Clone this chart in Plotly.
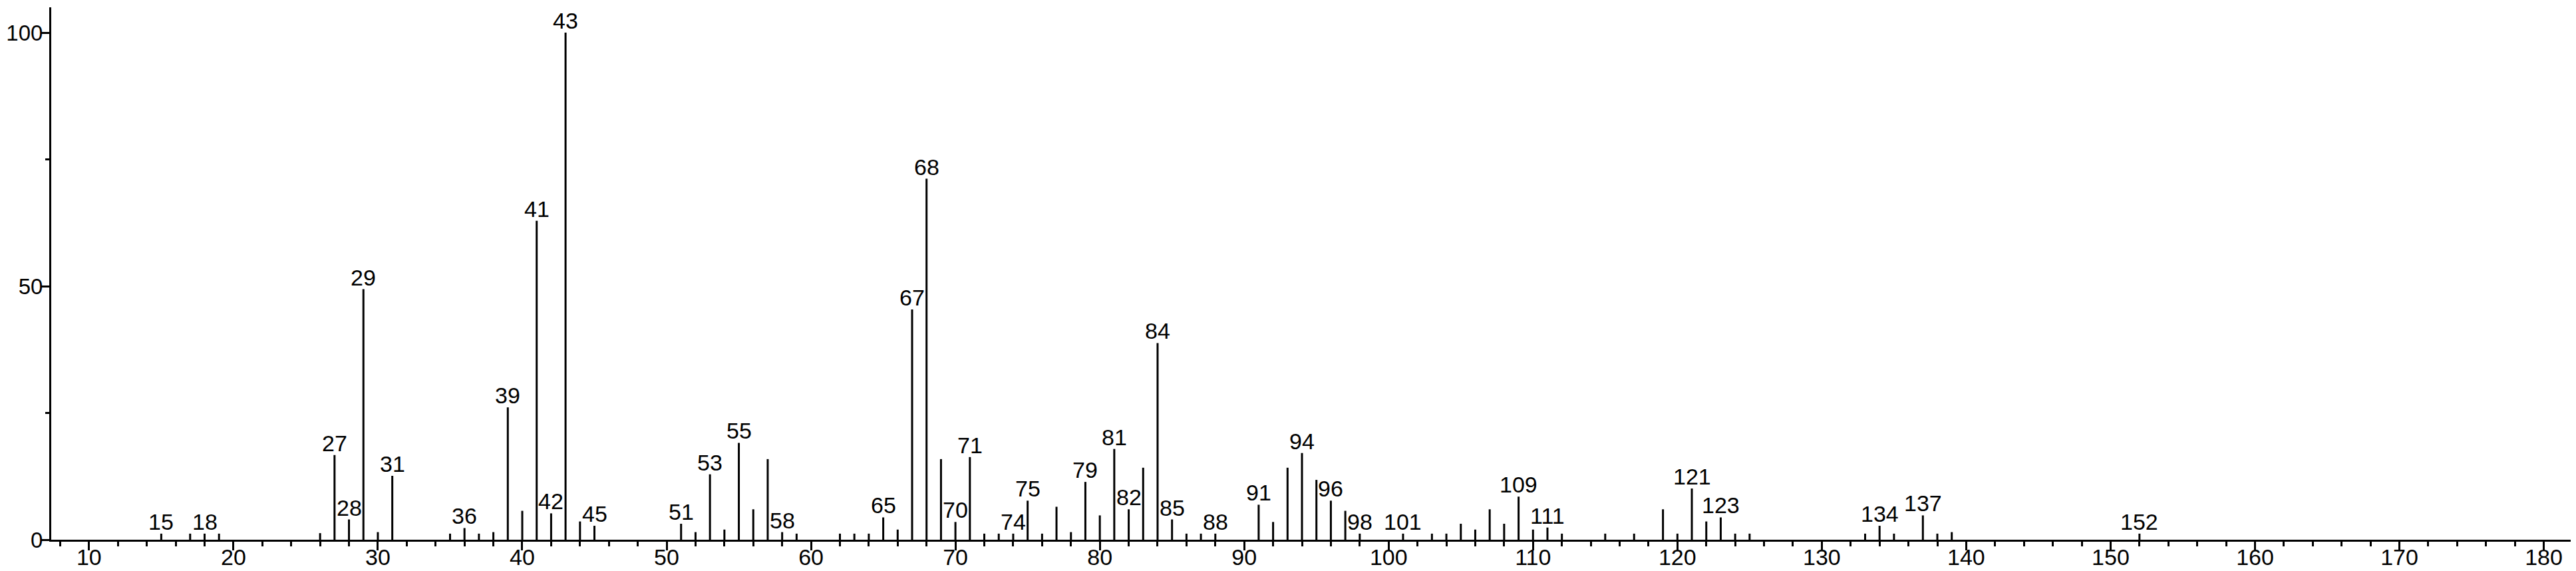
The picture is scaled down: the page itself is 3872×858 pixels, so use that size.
import plotly.graph_objects as go

# m/z values and relative intensities
mz = [15, 17, 18, 19, 26, 27, 28, 29, 30, 31, 35, 36, 37, 38, 39, 40, 41, 42, 43, 44, 45,
      51, 52, 53, 54, 55, 56, 57, 58, 59, 62, 63, 64, 65, 66, 67, 68, 69, 70, 71, 72, 73, 74,
      75, 76, 77, 78, 79, 80, 81, 82, 83, 84, 85, 86, 87, 88, 91, 92, 93, 94, 95, 96, 97, 98,
      101, 103, 104, 105, 106, 107, 108, 109, 110, 111, 112, 115, 117, 119, 120, 121, 122,
      123, 124, 125, 133, 134, 135, 137, 138, 139, 152]
intensity = [1.2, 1.2, 1.2, 1.2, 1.3, 16.7, 4.0, 49.4, 1.5, 12.6, 1.2, 2.3, 1.2, 1.5, 26.1, 5.7,
             62.9, 5.2, 100, 3.6, 2.75,
             3.15, 1.5, 12.9, 2.0, 19.1, 6.0, 15.9, 1.5, 1.2, 1.2, 1.2, 1.2, 4.4, 2.0, 45.4, 71.2,
             15.9, 3.5, 16.3, 1.2, 1.2, 1.2,
             7.7, 1.2, 6.5, 1.5, 11.4, 4.8, 17.9, 6.0, 14.2, 38.8, 4.0, 1.2, 1.2, 1.2, 6.9, 3.5,
             14.2, 17.1, 11.8, 7.7, 5.7, 1.2,
             1.2, 1.2, 1.2, 3.15, 2.0, 6.0, 3.15, 8.5, 2.0, 2.4, 1.2, 1.2, 1.2, 6.0, 1.2, 10.1, 3.6,
             4.4, 1.2, 1.2, 1.2, 2.75, 1.2, 4.8, 1.2, 1.5, 1.2]
labeled = [15, 18, 27, 28, 29, 31, 36, 39, 41, 42, 43, 45, 51, 53, 55, 58, 65, 67, 68, 70, 71,
           74, 75, 79, 81, 82, 84, 85, 88, 91, 94, 96, 98, 101, 109, 111, 121, 123, 134, 137, 152]
x_ticks = list(range(10, 190, 10))
y_ticks = [0, 50, 100]

FONT = "Liberation Sans, Arial, Helvetica, sans-serif"

xs, ys = [], []
for m, h in zip(mz, intensity):
    xs += [m, m, None]
    ys += [0, h, None]

fig = go.Figure()
fig.add_trace(go.Scatter(x=xs, y=ys, mode="lines",
                         line=dict(color="black", width=3), hoverinfo="skip",
                         showlegend=False))

lookup = dict(zip(mz, intensity))
for m in labeled:
    fig.add_annotation(x=m, y=lookup[m], text=str(m), showarrow=False,
                       xanchor="center", yanchor="bottom", yshift=-3,
                       font=dict(family=FONT, size=34, color="black"))

fig.update_layout(
    width=3872, height=858,
    margin=dict(l=69, r=0, t=3, b=55, autoexpand=False),
    plot_bgcolor="white", paper_bgcolor="white",
    font=dict(family=FONT, size=34, color="black"),
    showlegend=False,
)
fig.update_xaxes(range=[7.38, 182.6], tickvals=x_ticks, ticktext=[str(v) for v in x_ticks],
                 ticks="outside", ticklen=13, tickwidth=3, tickcolor="black",
                 ticklabelstandoff=-19,
                 showline=True, linewidth=3, linecolor="black",
                 showgrid=False, zeroline=False, automargin=False,
                 minor=dict(dtick=2, tick0=0, ticks="outside", ticklen=7, tickwidth=3,
                            tickcolor="black", showgrid=False),
                 tickfont=dict(family=FONT, size=34, color="black"))
fig.update_yaxes(range=[0, 105], tickvals=y_ticks, ticktext=[str(v) for v in y_ticks],
                 ticks="outside", ticklen=12, tickwidth=3, tickcolor="black",
                 ticklabelstandoff=-9,
                 showline=True, linewidth=3, linecolor="black",
                 showgrid=False, zeroline=False, automargin=False,
                 minor=dict(dtick=25, tick0=0, ticks="outside", ticklen=6, tickwidth=3,
                            tickcolor="black", showgrid=False),
                 tickfont=dict(family=FONT, size=33, color="black"))

fig.write_html("out.html")
